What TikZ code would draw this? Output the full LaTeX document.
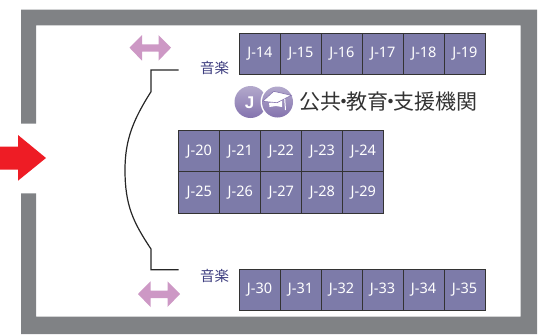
\documentclass[tikz,border=0pt]{standalone}
\usepackage{fontspec}
\setmainfont{Noto Sans}
\newfontfamily\cjk{Noto Sans CJK JP}
\newfontfamily\logofont{Liberation Sans}
\definecolor{wallgrey}{HTML}{808285}
\definecolor{standfill}{HTML}{7D7BA9}
\definecolor{musicblue}{HTML}{3F3F80}
\definecolor{arrowpink}{HTML}{CD98C5}
\definecolor{logotop}{HTML}{B3A9CC}
\definecolor{logobot}{HTML}{8473AE}
\definecolor{arrowred}{HTML}{EE1C25}
\tikzset{
  x=1pt,y=-1pt,
  stand/.style={draw=black!80,line width=0.8pt,fill=standfill,text=white,minimum width=41pt,minimum height=41.5pt,inner sep=0pt,font=\fontsize{14.5}{16}\selectfont,anchor=north west},
  music/.style={text=musicblue,inner sep=0pt,font=\cjk\fontsize{14.5}{16}\selectfont},
  wall/.style={fill=wallgrey},
  dblarrow/.style={fill=arrowpink},
  partition/.style={draw=black!85,line width=1.2pt}
}
\begin{document}
\begin{tikzpicture}
\useasboundingbox (0,0) rectangle (540,335);
% walls
\fill[wall] (21,123.5) -- (21,9.5) -- (537,9.5) -- (537,334) -- (21,334) -- (21,193.3) -- (36,193.3) -- (36,316.7) -- (520.7,316.7) -- (520.7,25.3) -- (36,25.3) -- (36,123.5) -- cycle;
% entrance arrow
\fill[arrowred] (0,146.7) -- (18,146.7) -- (18,135) -- (46,158) -- (18,180.7) -- (18,169.5) -- (0,169.5) -- cycle;
% double arrows
\fill[dblarrow] (129.5,47.7) -- (142,35) -- (142,44.3) -- (158.5,44.3) -- (158.5,35) -- (171,47.7) -- (158.5,60.7) -- (158.5,51.7) -- (142,51.7) -- (142,60.7) -- cycle;
\fill[dblarrow] (138,294) -- (150.5,281.3) -- (150.5,290.6) -- (167.5,290.6) -- (167.5,281.3) -- (180,294) -- (167.5,307) -- (167.5,298) -- (150.5,298) -- (150.5,307) -- cycle;
% curved partition
\coordinate (pa) at (178.7,70);
\coordinate (pb) at (151,70);
\coordinate (pc) at (151,91.7);
\coordinate (pd) at (151,249);
\coordinate (pe) at (151,269.7);
\coordinate (pf) at (178.7,269.7);
\draw[partition] (pa) -- (pb) -- (pc) .. controls (133,120) and (125,140) .. (125,170) .. controls (125,205) and (133,222) .. (pd) -- (pe) -- (pf);
% labels
\node[music] (m1) at (214.5,68) {音楽};
\node[music] (m2) at (214.5,276) {音楽};
% top row
\foreach \n [count=\i from 0] in {14,...,19}
  \node[stand] (s\n) at (239+41*\i,32.7) {J-\n};
% middle block
\foreach \n [count=\i from 0] in {20,...,24}
  \node[stand] (s\n) at (178.4+41*\i,130) {J-\n};
\foreach \n [count=\i from 0] in {25,...,29}
  \node[stand] (s\n) at (178.4+41*\i,171.3) {J-\n};
% bottom row
\foreach \n [count=\i from 0] in {30,...,35}
  \node[stand] (s\n) at (238.7+41*\i,268.7) {J-\n};
% logo
\shade[top color=logotop,bottom color=logobot] (250.5,102) circle (16);
\node[text=white,inner sep=0pt,font=\logofont\bfseries\fontsize{17}{18}\selectfont] (jl) at (249.5,103) {J};
\fill[white] (277.5,102) circle (17);
\shade[top color=logotop,bottom color=logobot] (277.5,102) circle (15.5);
\fill[white] (269,103) -- (282,100) -- (282,107) -- (276,106) -- (269.5,107) -- cycle;
\draw[logobot,line width=0.6pt,fill=white] (262.7,101.3) -- (273.7,91.3) -- (291.3,95.3) -- (277,102.7) -- cycle;
\draw[white,line width=1pt] (284.7,98.7) -- (285.5,110);
% title
\node[text=black!80,inner sep=0pt,anchor=west,font=\cjk\fontsize{21}{23}\selectfont] (title) at (299.5,102) {公共\kern-8pt・\kern-8pt教育\kern-8pt・\kern-8pt支援機関};
\end{tikzpicture}
\end{document}
